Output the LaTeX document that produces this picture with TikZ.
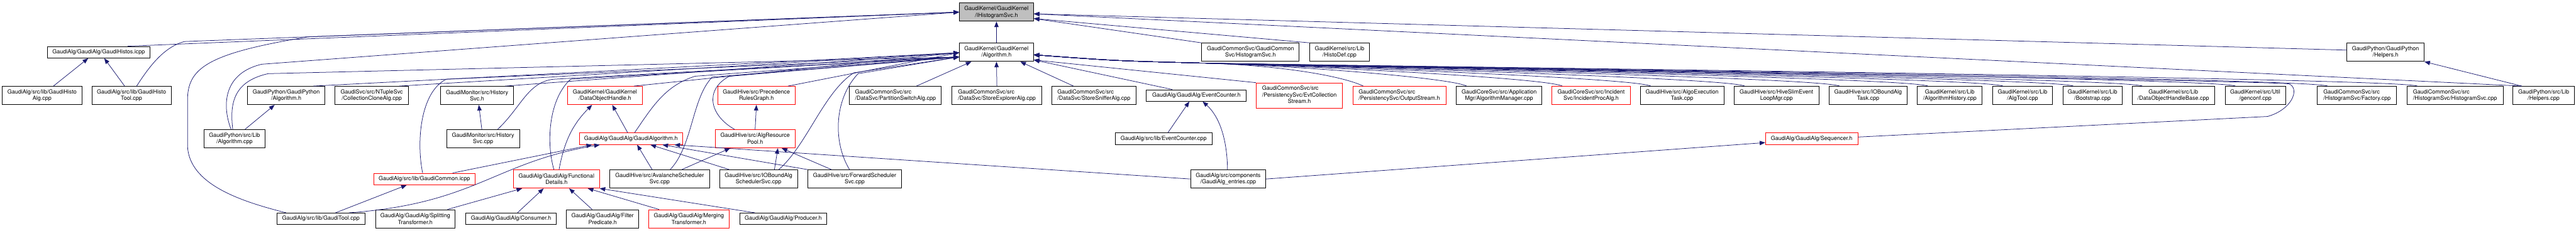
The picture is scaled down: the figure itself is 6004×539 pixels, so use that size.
\documentclass[tikz,border=0pt]{standalone}
\usepackage{fontspec}
\setmainfont{TeX Gyre Heros}
\usetikzlibrary{arrows.meta,calc}
\definecolor{doxblue}{HTML}{191970}
\definecolor{doxred}{HTML}{FF0000}
\definecolor{doxgray}{HTML}{BFBFBF}
\newcommand\doxfont{\fontsize{13.2}{15.7}\selectfont}

\begin{document}
\begin{tikzpicture}[x=1pt,y=-1pt,font=\doxfont,
   file/.style={draw=black,line width=1.2pt,fill=white,inner xsep=2pt,inner ysep=0pt,
                align=center,minimum height=42.8pt},
   one/.style={minimum height=27pt},
   three/.style={minimum height=58.8pt},
   flush/.style={align=left},
   warn/.style={draw=doxred},
   focus/.style={fill=doxgray},
   incl/.style={draw=doxblue,line width=1.1pt,-{Triangle[length=13pt,width=10pt]}}]

  \path[use as bounding box,fill=white] (0,0) rectangle (6004,539);

  % --- row 1 ---
  \node[file,focus,minimum width=173pt] (ihs) at (2322.5,28.3) {GaudiKernel/GaudiKernel\\/IHistogramSvc.h};

  % --- row 2 ---
  \node[file,one,minimum width=240pt] (histos) at (230,122) {GaudiAlg/GaudiAlg/GaudiHistos.icpp};
  \node[file,minimum width=173pt] (alg) at (2322.5,122) {GaudiKernel/GaudiKernel\\/Algorithm.h};
  \node[file,minimum width=227pt] (hsvch) at (2914.5,122) {GaudiCommonSvc/GaudiCommon\\Svc/HistogramSvc.h};
  \node[file,minimum width=138pt] (histodef) at (3122,122) {GaudiKernel/src/Lib\\/HistoDef.cpp};
  \node[file,minimum width=180pt] (helpersh) at (5560,122) {GaudiPython/GaudiPython\\/Helpers.h};

  % --- row 3 ---
  \node[file,minimum width=185pt] (histoalg) at (98,223) {GaudiAlg/src/lib/GaudiHisto\\Alg.cpp};
  \node[file,minimum width=185pt] (histotool) at (306.5,223) {GaudiAlg/src/lib/GaudiHisto\\Tool.cpp};
  \node[file,minimum width=180pt] (gpyalgh) at (667,223) {GaudiPython/GaudiPython\\/Algorithm.h};
  \node[file,minimum width=171pt] (collclone) at (866.5,223) {GaudiSvc/src/NTupleSvc\\/CollectionCloneAlg.cpp};
  \node[file,minimum width=170pt] (histsvch) at (1112,223) {GaudiMonitor/src/History\\Svc.h};
  \node[file,warn,minimum width=174pt] (dohandle) at (1410,223) {GaudiKernel/GaudiKernel\\/DataObjectHandle.h};
  \node[file,warn,minimum width=180pt] (precedence) at (1763,223) {GaudiHive/src/Precedence\\RulesGraph.h};
  \node[file,flush,minimum width=214pt] (partswitch) at (2087,223) {GaudiCommonSvc/src\\/DataSvc/PartitionSwitchAlg.cpp};
  \node[file,flush,minimum width=209pt] (storeexpl) at (2323.5,223) {GaudiCommonSvc/src\\/DataSvc/StoreExplorerAlg.cpp};
  \node[file,flush,minimum width=197pt] (storesniff) at (2549.5,223) {GaudiCommonSvc/src\\/DataSvc/StoreSnifferAlg.cpp};
  \node[file,one,minimum width=233pt] (evcounterh) at (2788.5,223) {GaudiAlg/GaudiAlg/EventCounter.h};
  \node[file,warn,three,minimum width=201pt] (evtcoll) at (3028.5,223)
    {\begin{tabular}{@{}l@{}}GaudiCommonSvc/src\\/PersistencySvc/EvtCollection\\\multicolumn{1}{@{}c@{}}{Stream.h}\end{tabular}};
  \node[file,warn,flush,minimum width=217pt] (outstream) at (3261.5,223) {GaudiCommonSvc/src\\/PersistencySvc/OutputStream.h};
  \node[file,minimum width=200pt] (algmgr) at (3494,223) {GaudiCoreSvc/src/Application\\Mgr/AlgorithmManager.cpp};
  \node[file,warn,minimum width=183pt] (incident) at (3708.5,223) {GaudiCoreSvc/src/Incident\\Svc/IncidentProcAlg.h};
  \node[file,minimum width=195pt] (algoexec) at (3920.5,223) {GaudiHive/src/AlgoExecution\\Task.cpp};
  \node[file,minimum width=197pt] (hiveslim) at (4140.5,223) {GaudiHive/src/HiveSlimEvent\\LoopMgr.cpp};
  \node[file,minimum width=182pt] (ioboundtask) at (4354,223) {GaudiHive/src/IOBoundAlg\\Task.cpp};
  \node[file,minimum width=151pt] (alghist) at (4544.5,223) {GaudiKernel/src/Lib\\/AlgorithmHistory.cpp};
  \node[file,minimum width=140pt] (algtool) at (4714,223) {GaudiKernel/src/Lib\\/AlgTool.cpp};
  \node[file,minimum width=138pt] (bootstrap) at (4877,223) {GaudiKernel/src/Lib\\/Bootstrap.cpp};
  \node[file,minimum width=193pt] (dohbase) at (5065.5,223) {GaudiKernel/src/Lib\\/DataObjectHandleBase.cpp};
  \node[file,minimum width=141pt] (genconf) at (5256.5,223) {GaudiKernel/src/Util\\/genconf.cpp};
  \node[file,flush,minimum width=185pt] (factory) at (5493.5,223) {GaudiCommonSvc/src\\/HistogramSvc/Factory.cpp};
  \node[file,flush,minimum width=224pt] (hsvccpp) at (5722,223) {GaudiCommonSvc/src\\/HistogramSvc/HistogramSvc.cpp};
  \node[file,minimum width=143pt] (helperscpp) at (5928.5,223) {GaudiPython/src/Lib\\/Helpers.cpp};

  % --- row 4 ---
  \node[file,minimum width=143pt] (gpyalgcpp) at (546.5,324) {GaudiPython/src/Lib\\/Algorithm.cpp};
  \node[file,minimum width=170pt] (histsvccpp) at (1126,324) {GaudiMonitor/src/History\\Svc.cpp};
  \node[file,warn,one,minimum width=241pt] (gaudialgh) at (1470.5,324) {GaudiAlg/GaudiAlg/GaudiAlgorithm.h};
  \node[file,warn,minimum width=186pt] (algpool) at (1760,324) {GaudiHive/src/AlgResource\\Pool.h};
  \node[file,one,minimum width=226pt] (evcountercpp) at (2712,324) {GaudiAlg/src/lib/EventCounter.cpp};
  \node[file,warn,one,minimum width=215pt] (sequencer) at (4222.5,324) {GaudiAlg/GaudiAlg/Sequencer.h};

  % --- row 5 ---
  \node[file,warn,one,minimum width=236pt] (gaudicommon) at (989,418) {GaudiAlg/src/lib/GaudiCommon.icpp};
  \node[file,warn,minimum width=200pt] (funcdetails) at (1297,418) {GaudiAlg/GaudiAlg/Functional\\Details.h};
  \node[file,minimum width=233pt] (avalanche) at (1537.5,418) {GaudiHive/src/AvalancheScheduler\\Svc.cpp};
  \node[file,minimum width=182pt] (iobsched) at (1768,418) {GaudiHive/src/IOBoundAlg\\SchedulerSvc.cpp};
  \node[file,minimum width=218pt] (forward) at (1992,418) {GaudiHive/src/ForwardScheduler\\Svc.cpp};
  \node[file,minimum width=175pt] (entries) at (2862.5,418) {GaudiAlg/src/components\\/GaudiAlg\_entries.cpp};

  % --- row 6 ---
  \node[file,one,minimum width=206pt] (gauditool) at (748,511) {GaudiAlg/src/lib/GaudiTool.cpp};
  \node[file,minimum width=186pt] (splitting) at (968,511) {GaudiAlg/GaudiAlg/Splitting\\Transformer.h};
  \node[file,one,minimum width=210pt] (consumer) at (1191,511) {GaudiAlg/GaudiAlg/Consumer.h};
  \node[file,minimum width=169pt] (filterpred) at (1404.5,511) {GaudiAlg/GaudiAlg/Filter\\Predicate.h};
  \node[file,warn,minimum width=187pt] (merging) at (1605.5,511) {GaudiAlg/GaudiAlg/Merging\\Transformer.h};
  \node[file,one,minimum width=203pt] (producer) at (1825.5,511) {GaudiAlg/GaudiAlg/Producer.h};

  % arrow ends on the two kernel headers
  \coordinate (ihsr) at ($(ihs.east)+(0,4)$);
  \coordinate (ihsr2) at ($(ihs.east)+(0,15)$);
  \coordinate (algl) at ($(alg.west)+(0,1)$);
  \coordinate (algl2) at ($(alg.west)+(0,11)$);
  \coordinate (algr) at ($(alg.east)+(0,6)$);
  \coordinate (algr2) at ($(alg.east)+(0,18)$);

  % --- into IHistogramSvc.h ---
  \draw[incl] (alg.north) -- (ihs.south);
  \draw[incl] ([xshift=-53pt]histos.north east) -- (ihs.west);
  \draw[incl] ([xshift=12pt]histotool.north) .. controls (345,160) and (380,110) .. (430,97) -- (ihs.west);
  \draw[incl] ([xshift=-81pt]gauditool.north) .. controls (560,470) and (440,430) .. (437,340) -- (437,235)
    .. controls (437,160) and (480,125) .. (719,86) -- (ihs.west);
  \draw[incl] ([xshift=-8pt]gpyalgcpp.north) .. controls (515,240) and (525,170) .. (610,150) -- (ihs.west);
  \draw[incl] (hsvch.north west) -- (ihsr2);
  \draw[incl] (histodef.north west) -- (ihsr2);
  \draw[incl] ([yshift=5pt]helpersh.west) -- (ihsr);
  \draw[incl] ([xshift=21pt]helperscpp.north west) -- (ihsr);
  \draw[incl] ([xshift=21pt]helperscpp.north west) -- (helpersh.south east);

  % --- into Algorithm.h, from the left ---
  \draw[incl] ([xshift=-4pt]gpyalgcpp.north) .. controls (535,240) and (545,190) .. (625,172) -- (algl2);
  \draw[incl] ([xshift=-27pt]gpyalgh.north east) -- (algl);
  \draw[incl] ([xshift=-22pt]collclone.north east) -- (algl);
  \draw[incl] ([xshift=-20pt]histsvch.north east) -- (algl);
  \draw[incl] ([xshift=34pt]histsvccpp.north) .. controls (1215,250) and (1230,192) .. (1290,185) -- (algl2);
  \draw[incl] ([xshift=-4pt]gaudicommon.north) .. controls (970,330) and (980,215) .. (1040,185) -- (algl2);
  \draw[incl] ([xshift=-6pt]funcdetails.north) .. controls (1272,330) and (1280,230) .. (1330,185) -- (algl2);
  \draw[incl] ([xshift=8.5pt]gaudialgh.north) .. controls (1520,250) and (1550,200) .. (1620,178) -- (algl2);
  \draw[incl] ([xshift=-20pt]dohandle.north east) -- (algl);
  \draw[incl] ([xshift=24.5pt]avalanche.north) .. controls (1615,340) and (1612,230) .. (1660,180) -- (algl2);
  \draw[incl] ([xshift=-48pt]algpool.north) .. controls (1655,270) and (1640,210) .. (1700,178) -- (algl2);
  \draw[incl] ([xshift=-17pt]precedence.north east) -- (algl);
  \draw[incl] ([xshift=47pt]iobsched.north) .. controls (1880,340) and (1920,215) .. (1990,170) -- (algl2);
  \draw[incl] ([xshift=-12pt]forward.north) .. controls (1940,330) and (1945,230) .. (2000,172) -- (algl2);

  % --- into Algorithm.h, from below and the right ---
  \draw[incl] ([xshift=49pt]partswitch.north) -- ([xshift=-58.5pt]alg.south);
  \draw[incl] (storeexpl.north) -- (alg.south);
  \draw[incl] ([xshift=-47.5pt]storesniff.north) -- ([xshift=55.5pt]alg.south);
  \draw[incl] ([xshift=-56.5pt]evcounterh.north) -- (algr2);
  \draw[incl] (evtcoll.north west) -- (algr2);
  \foreach \f in {outstream,algmgr,incident,algoexec,hiveslim,ioboundtask,alghist,algtool,bootstrap,dohbase,genconf,factory,hsvccpp}
    \draw[incl] ([xshift=25pt]\f.north west) .. controls +(-40,-20) and (3000,152) .. (2790,147)
      .. controls (2600,142) .. (algr);
  \draw[incl] ([yshift=4pt]sequencer.east) -- (5285,272) .. controls (5345,255) and (5360,205) .. (5335,196)
    .. controls (5300,188) and (3000,152) .. (2790,147) .. controls (2600,142) .. (algr);

  % --- the other headers ---
  \draw[incl] ([xshift=26.5pt]histoalg.north) -- ([xshift=-24.5pt]histos.south);
  \draw[incl] ([xshift=-16pt]histotool.north) -- ([xshift=13pt]histos.south);
  \draw[incl] ([xshift=24.5pt]gpyalgcpp.north) -- ([xshift=-27pt]gpyalgh.south);
  \draw[incl] ([xshift=-3pt]histsvccpp.north) -- ([xshift=4pt]histsvch.south);
  \draw[incl] ([xshift=-7.5pt]gaudialgh.north) -- ([xshift=17pt]dohandle.south);
  \draw[incl] ([xshift=6pt]funcdetails.north) .. controls (1315,330) and (1335,290) .. ([xshift=-30pt]dohandle.south);
  \draw[incl] ([xshift=-17.5pt]avalanche.north) -- ([xshift=14.5pt]gaudialgh.south);
  \draw[incl] ([xshift=51.5pt]avalanche.north) -- ([xshift=-58pt]algpool.south);
  \draw[incl] (algpool.north) -- (precedence.south);
  \draw[incl] ([xshift=-68pt]iobsched.north) -- ([xshift=45.5pt]gaudialgh.south);
  \draw[incl] ([xshift=37pt]iobsched.north) -- ([xshift=53pt]algpool.south);
  \draw[incl] ([xshift=-54pt]forward.north) -- ([xshift=62pt]algpool.south);
  \draw[incl] (forward.north west) -- ([xshift=73.5pt]gaudialgh.south);
  \draw[incl] (entries.west) -- ([xshift=101.5pt]gaudialgh.south);
  \draw[incl] ([xshift=10pt]evcountercpp.north) -- ([xshift=-16.5pt]evcounterh.south);
  \draw[incl] ([xshift=-1.5pt]entries.north) .. controls (2860,320) and (2840,270) .. ([xshift=14.5pt]evcounterh.south);
  \draw[incl] (entries.east) -- ([yshift=-9pt]sequencer.west);
  \draw[incl] ([xshift=66pt]gaudicommon.north) -- ([xshift=-90.5pt]gaudialgh.south);
  \draw[incl] ([xshift=34pt]gauditool.north) -- ([xshift=-41pt]gaudicommon.south);
  \draw[incl] ([xshift=65.5pt]gauditool.north) .. controls (1110,475) and (1150,380) .. ([xshift=-72.5pt]gaudialgh.south);

  % --- into FunctionalDetails.h ---
  \draw[incl] ([xshift=75pt]splitting.north) -- ([xshift=-80pt]funcdetails.south);
  \draw[incl] ([xshift=15pt]consumer.north) -- ([xshift=-30pt]funcdetails.south);
  \draw[incl] ([xshift=-24.5pt]filterpred.north) -- ([xshift=29.5pt]funcdetails.south);
  \draw[incl] ([xshift=-69.5pt]merging.north) -- ([xshift=73pt]funcdetails.south);
  \draw[incl] ([xshift=-66pt]producer.north) -- (funcdetails.south east);
\end{tikzpicture}
\end{document}
